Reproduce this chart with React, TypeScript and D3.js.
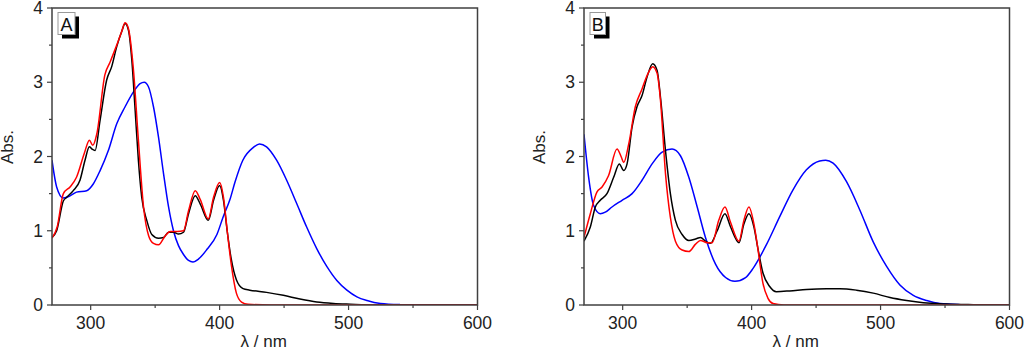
import React from "react";
import * as d3 from "d3";

type Pt = [number, number];

// Panel A spectra [wavelength nm, absorbance]
const aBlack: Pt[] = [
  [270, 0.91], [273.6, 1.0], [278.8, 1.4], [281.4, 1.45], [286.5, 1.54], [291.7, 1.68], [295.6, 1.95],
  [299, 2.13], [301, 2.1], [303.4, 2.08], [307.3, 2.49], [312.4, 3.03], [316.3, 3.21], [320.2, 3.48],
  [324, 3.68], [326.7, 3.79], [329.3, 3.7], [331.9, 3.3], [334.5, 2.62], [337, 1.95], [339.6, 1.45],
  [343.5, 1.14], [347.4, 0.95], [352.6, 0.9], [356.5, 0.91], [360.4, 0.98], [364.2, 0.98], [368.1, 0.955],
  [372, 0.98], [375.9, 1.23], [381.1, 1.47], [385, 1.36], [391.2, 1.14], [395.3, 1.41], [400, 1.61],
  [403, 1.41], [406, 0.98], [409, 0.62], [413, 0.34], [418.2, 0.22], [423.4, 0.2], [436.4, 0.17],
  [449.4, 0.13], [462.3, 0.08], [475.3, 0.04], [488.3, 0.02], [501.3, 0.01], [520, 0], [600, 0],
];
const aRed: Pt[] = [
  [270, 0.9], [274, 1.05], [278.8, 1.5], [284, 1.59], [289, 1.72], [295, 2.04], [299, 2.22], [301.6, 2.15],
  [304.7, 2.3], [311, 3.1], [315, 3.27], [320.2, 3.5], [324, 3.68], [326.7, 3.8], [329.3, 3.72], [333, 3.2],
  [337, 2.22], [341, 1.32], [345, 0.93], [348.7, 0.83], [352.6, 0.81], [357.8, 0.93], [361.7, 0.99],
  [367, 0.99], [372, 1.0], [375.9, 1.27], [381.1, 1.54], [385, 1.42], [391.2, 1.16], [395.3, 1.45],
  [400, 1.65], [403, 1.45], [406, 0.98], [409, 0.55], [413, 0.16], [417, 0.04], [422, 0.01], [440, 0], [600, 0],
];
const aBlue: Pt[] = [
  [270, 1.95], [273.6, 1.59], [278.8, 1.44], [284, 1.47], [289, 1.52], [296.9, 1.54], [302, 1.63],
  [307.3, 1.81], [313.7, 2.08], [320.2, 2.44], [326.7, 2.67], [333.2, 2.87], [338.3, 2.98], [341.5, 3.0],
  [344.8, 2.94], [348.7, 2.67], [352.6, 2.26], [356.5, 1.77], [360.4, 1.32], [364.2, 1.0], [368.1, 0.8],
  [372, 0.68], [375.9, 0.6], [379.3, 0.58], [383.7, 0.62], [390.2, 0.75], [397.9, 0.95], [403, 1.2],
  [408, 1.42], [412, 1.66], [418, 1.95], [426, 2.12], [431, 2.17], [436.4, 2.13], [444.2, 1.95],
  [452, 1.68], [459.7, 1.37], [467.5, 1.05], [475.3, 0.76], [483.1, 0.52], [490.9, 0.33], [498.7, 0.2],
  [506.5, 0.11], [514.3, 0.06], [524.7, 0.02], [540, 0.005], [560, 0], [600, 0],
];

// Panel B spectra
const bBlack: Pt[] = [
  [270, 0.86], [274.9, 1.05], [278.8, 1.32], [282.6, 1.41], [287.8, 1.5], [293, 1.72], [297.4, 1.9],
  [300.8, 1.81], [303.4, 1.9], [307.3, 2.4], [311.1, 2.67], [315, 2.82], [318.9, 3.07], [323.3, 3.25],
  [326.7, 3.16], [329.3, 2.8], [333.2, 2.08], [337, 1.5], [340.9, 1.14], [346.1, 0.95], [351.3, 0.87],
  [356.5, 0.89], [360.4, 0.91], [364.2, 0.86], [368.1, 0.83], [373.3, 1.0], [379.3, 1.23], [383.7, 1.05],
  [390.2, 0.84], [394, 1.09], [397.9, 1.23], [401.8, 1.05], [405, 0.75], [408.8, 0.43], [414, 0.25],
  [419.2, 0.18], [429.5, 0.19], [442.5, 0.21], [458, 0.22], [468.4, 0.22], [481.3, 0.2], [494.3, 0.16],
  [507.3, 0.1], [520.2, 0.06], [533.2, 0.03], [551.3, 0.013], [572, 0.005], [600, 0],
];
const bRed: Pt[] = [
  [270, 0.91], [274.9, 1.23], [280, 1.52], [284, 1.59], [289, 1.74], [295.6, 2.1], [299, 1.99],
  [300.8, 1.92], [304.7, 2.17], [309.8, 2.67], [315, 2.91], [318.9, 3.09], [323.3, 3.21], [326.7, 3.12],
  [329.3, 2.76], [333.2, 1.77], [337, 1.18], [340.9, 0.86], [346.1, 0.74], [351.3, 0.72], [356.5, 0.82],
  [360.4, 0.87], [365.5, 0.84], [369.4, 0.84], [374.5, 1.14], [379.3, 1.32], [383.7, 1.11], [390.2, 0.86],
  [394, 1.14], [397.9, 1.32], [401.8, 1.09], [404.5, 0.8], [408.8, 0.29], [412.7, 0.09], [416.6, 0.02],
  [425, 0], [600, 0],
];
const bBlue: Pt[] = [
  [270, 2.3], [273.6, 1.72], [277.5, 1.34], [282.6, 1.23], [286.5, 1.25], [291.7, 1.32], [299.5, 1.41],
  [307.3, 1.5], [315, 1.68], [322.8, 1.9], [330.6, 2.06], [338.3, 2.1], [344.8, 2.01], [351.3, 1.72],
  [357.8, 1.32], [364.2, 0.91], [372, 0.55], [379.8, 0.37], [387, 0.32], [395.3, 0.37], [401, 0.49],
  [411.4, 0.81], [421.8, 1.19], [432.1, 1.55], [442.5, 1.82], [452.8, 1.94], [457.5, 1.95], [463.2, 1.91],
  [473.6, 1.66], [483.9, 1.28], [494.3, 0.85], [504.7, 0.52], [515, 0.27], [525.4, 0.13], [535.8, 0.06],
  [546.1, 0.02], [561.7, 0.005], [580, 0], [600, 0],
];

const xDomain: [number, number] = [270, 600];
const yDomain: [number, number] = [0, 4];
const xMajor = [300, 400, 500, 600];
const xMinor = [350, 450, 550];
const yMajor = [0, 1, 2, 3, 4];
const yMinor = [0.5, 1.5, 2.5, 3.5];

const FONT = "'Liberation Sans', Arial, sans-serif";
const AX = "#404040";

function Panel({ left, label, boxW, series, id }: {
  left: number; label: string; boxW: number; series: { d: Pt[]; c: string }[]; id: string;
}) {
  const right = left + 425.5;
  const top = 8;
  const bottom = 305;
  const x = d3.scaleLinear().domain(xDomain).range([left, right]);
  const y = d3.scaleLinear().domain(yDomain).range([bottom, top]);
  const line = d3.line<Pt>().x((p) => x(p[0])).y((p) => y(p[1])).curve(d3.curveMonotoneX);
  return (
    <g>
      <defs>
        <clipPath id={id}>
          <rect x={left} y={top} width={right - left} height={bottom - top} />
        </clipPath>
      </defs>
      <g clipPath={`url(#${id})`}>
        {series.map((s, i) => (
          <path key={i} d={line(s.d) || ""} fill="none" stroke={s.c} strokeWidth={1.5} />
        ))}
      </g>
      <rect x={left} y={top} width={right - left} height={bottom - top} fill="none" stroke={AX} strokeWidth={1.5} />
      {xMajor.map((v) => (
        <g key={"xm" + v}>
          <line x1={x(v)} x2={x(v)} y1={bottom} y2={bottom + 5} stroke={AX} strokeWidth={1.2} />
          <text x={x(v)} y={328.5} textAnchor="middle" fontSize={17.5} fontFamily={FONT} fill="#222">{v}</text>
        </g>
      ))}
      {xMinor.map((v) => (
        <line key={"xn" + v} x1={x(v)} x2={x(v)} y1={bottom} y2={bottom + 3} stroke={AX} strokeWidth={1.2} />
      ))}
      {yMajor.map((v) => (
        <g key={"ym" + v}>
          <line x1={left - 5} x2={left} y1={y(v)} y2={y(v)} stroke={AX} strokeWidth={1.2} />
          <text x={left - 9} y={y(v) + 6.2} textAnchor="end" fontSize={17.5} fontFamily={FONT} fill="#222">{v}</text>
        </g>
      ))}
      {yMinor.map((v) => (
        <line key={"yn" + v} x1={left - 3} x2={left} y1={y(v)} y2={y(v)} stroke={AX} strokeWidth={1.2} />
      ))}
      <text x={(left + right) / 2 - 1} y={347} textAnchor="middle" fontSize={17} fontFamily={FONT} fill="#222">λ / nm</text>
      <text transform={`translate(${left - 39},147) rotate(-90)`} textAnchor="middle" fontSize={17} fontFamily={FONT} fill="#222">Abs.</text>
      <rect x={left + 10} y={16.5} width={boxW} height={22} fill="#000" />
      <rect x={left + 6} y={12.5} width={boxW} height={22} fill="#fff" stroke="#999" strokeWidth={1} />
      <text x={left + 6 + boxW / 2} y={31} textAnchor="middle" fontSize={18} fontFamily={FONT} fill="#111">{label}</text>
    </g>
  );
}

export default function App() {
  return (
    <svg width={1024} height={352} style={{ position: "absolute", left: 0, top: 0, background: "#fff" }}>
      <rect width={1024} height={352} fill="#fff" />
      <Panel left={52} label="A" boxW={17} id="clipA" series={[
        { d: aBlue, c: "#0000ff" }, { d: aBlack, c: "#000000" }, { d: aRed, c: "#ff0000" },
      ]} />
      <Panel left={584} label="B" boxW={15.5} id="clipB" series={[
        { d: bBlue, c: "#0000ff" }, { d: bBlack, c: "#000000" }, { d: bRed, c: "#ff0000" },
      ]} />
    </svg>
  );
}
